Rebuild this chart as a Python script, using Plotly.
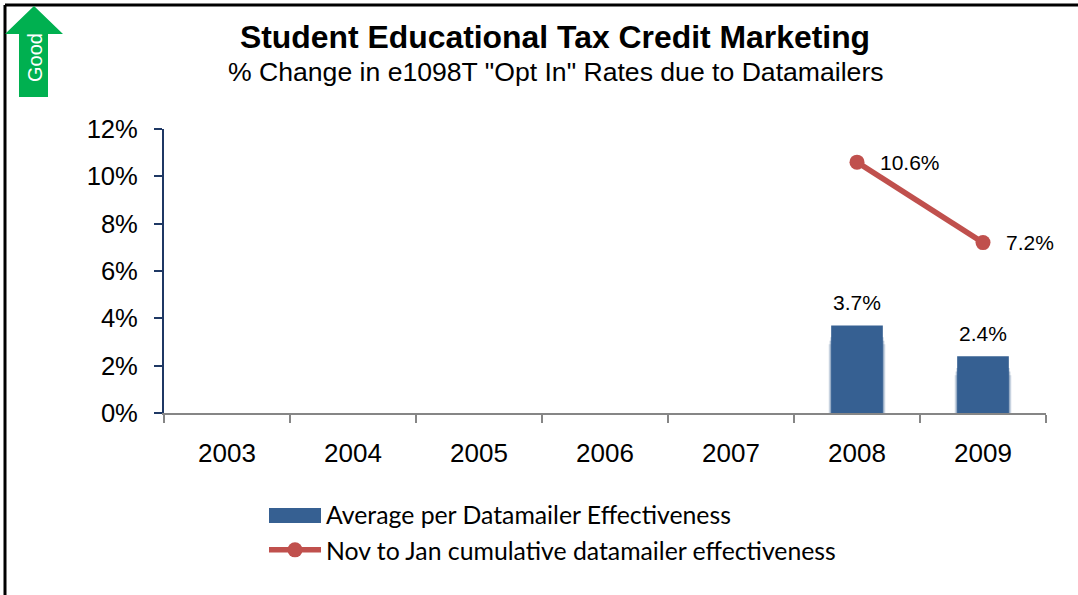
import plotly.graph_objects as go

# Chart content
years = ["2003", "2004", "2005", "2006", "2007", "2008", "2009"]
avg_effectiveness = [None, None, None, None, None, 3.7, 2.4]
cumulative_effectiveness = [None, None, None, None, None, 10.6, 7.2]
halo_wide_tops = [None, None, None, None, None, 2.9, 1.6]
halo_mid_tops = [None, None, None, None, None, 3.05, 1.75]
halo_near_tops = [None, None, None, None, None, 3.2, 1.9]
bar_name = "Average per Datamailer Effectiveness"
line_name = "Nov to Jan cumulative datamailer effectiveness"
title_text = "Student Educational Tax Credit Marketing"
subtitle_text = '% Change in e1098T "Opt In" Rates due to Datamailers'

BAR_BLUE = "#366092"
LINE_RED = "#C0504D"
ARROW_GREEN = "#00B050"
WIDTH, HEIGHT = 1078, 595
LEFT, RIGHT, TOP, BOTTOM = 164, 1046, 129, 413
SANS = "Liberation Sans, Arial, sans-serif"
LEGEND_FONT = "Lato, sans-serif"


def px(x):
    return (x - LEFT) / (RIGHT - LEFT)


def py(y):
    return (BOTTOM - y) / (BOTTOM - TOP)


fig = go.Figure()

# Soft halo along the sides of the columns
for tops, width, alpha in [
    (halo_wide_tops, 0.45, 0.18),
    (halo_mid_tops, 0.435, 0.28),
    (halo_near_tops, 0.42, 0.40),
]:
    fig.add_bar(
        x=years, y=tops, width=width,
        marker=dict(color=f"rgba(54,96,146,{alpha})", line_width=0),
        showlegend=False, hoverinfo="skip",
    )

fig.add_bar(
    x=years, y=avg_effectiveness, width=0.41,
    marker=dict(color=BAR_BLUE, line_width=0), showlegend=False, name=bar_name,
)
fig.add_scatter(
    x=years, y=cumulative_effectiveness, mode="lines+markers",
    line=dict(color=LINE_RED, width=5.5),
    marker=dict(color=LINE_RED, size=15), showlegend=False, name=line_name,
)

# Legend entries: a wide swatch for the columns and the line with its marker
fig.add_scatter(
    x=[None], y=[None], mode="lines", name=bar_name,
    line=dict(color=BAR_BLUE, width=15),
)
fig.add_scatter(
    x=[None], y=[None], mode="lines+markers", name=line_name,
    line=dict(color=LINE_RED, width=5.5), marker=dict(color=LINE_RED, size=15),
)

# Value labels, positioned by category index since the year names look numeric
for index, value in enumerate(avg_effectiveness):
    if value is not None:
        fig.add_annotation(
            xref="x", yref="y", x=index, y=value, text=f"{value:.1f}%", showarrow=False,
            xanchor="center", yanchor="bottom", yshift=9,
            font=dict(size=21, color="black", family=SANS),
        )
for index, value in enumerate(cumulative_effectiveness):
    if value is not None:
        fig.add_annotation(
            xref="x", yref="y", x=index, y=value, text=f"{value:.1f}%", showarrow=False,
            xanchor="left", yanchor="middle", xshift=21,
            font=dict(size=21, color="black", family=SANS),
        )

# Frame lines along the top and left edges
fig.add_shape(type="line", xref="paper", yref="paper", x0=px(5), x1=px(WIDTH), y0=py(5), y1=py(5),
              line=dict(color="black", width=3))
fig.add_shape(type="line", xref="paper", yref="paper", x0=px(5), x1=px(5), y0=py(5), y1=py(HEIGHT),
              line=dict(color="black", width=3))

# Taller block over the legend's column swatch
fig.add_shape(type="rect", xref="paper", yref="paper", x0=px(269), x1=px(321), y0=py(508), y1=py(523),
              fillcolor=BAR_BLUE, line_width=0)

# "Good" direction arrow
arrow_outline = [(34, 6), (63, 34), (48, 34), (48, 97), (19, 97), (19, 34), (5, 34)]
arrow_path = "M " + " L ".join(f"{px(x):.5f},{py(y):.5f}" for x, y in arrow_outline) + " Z"
fig.add_shape(type="path", xref="paper", yref="paper", path=arrow_path,
              fillcolor=ARROW_GREEN, line_width=0)
fig.add_annotation(
    xref="paper", yref="paper", x=px(35), y=py(58), text="Good", textangle=-90,
    xanchor="center", yanchor="middle",
    showarrow=False, font=dict(size=20, color="white", family=SANS),
)

# Subtitle under the main heading
fig.add_annotation(
    xref="paper", yref="paper", x=px(555.5), y=py(72), text=subtitle_text,
    xanchor="center", yanchor="middle",
    showarrow=False, font=dict(size=26.6, color="black", family=SANS),
)

fig.update_layout(
    width=WIDTH, height=HEIGHT, autosize=False,
    margin=dict(l=LEFT, r=WIDTH - RIGHT, t=TOP, b=HEIGHT - BOTTOM, pad=0),
    paper_bgcolor="white", plot_bgcolor="white",
    barmode="overlay",
    title=dict(
        text=f"<b>{title_text}</b>",
        font=dict(size=31.9, color="black", family=SANS),
        x=555 / WIDTH, xanchor="center", xref="container",
        y=1 - 26 / HEIGHT, yanchor="top",
    ),
    legend=dict(
        x=px(264), y=py(492), xanchor="left", yanchor="top",
        bgcolor="rgba(0,0,0,0)", itemwidth=52,
        font=dict(size=24.8, color="black", family=LEGEND_FONT),
        traceorder="normal", itemclick=False, itemdoubleclick=False,
    ),
    xaxis=dict(
        type="category", categoryorder="array", categoryarray=years,
        range=[-0.5, 6.5], tickson="boundaries",
        ticks="outside", ticklen=8, tickwidth=2, tickcolor="#868686",
        showline=True, linecolor="#868686", linewidth=2, showgrid=False,
        tickfont=dict(size=26, color="black", family=SANS), ticklabelstandoff=16,
    ),
    yaxis=dict(
        range=[0, 12], tick0=0, dtick=2, ticksuffix="%",
        ticks="outside", ticklen=8, tickwidth=2, tickcolor="#1F3864",
        showline=True, linecolor="#1F3864", linewidth=2, showgrid=False, zeroline=False,
        tickfont=dict(size=25.6, color="black", family=SANS), ticklabelstandoff=11,
    ),
)

fig.write_html("out.html")
